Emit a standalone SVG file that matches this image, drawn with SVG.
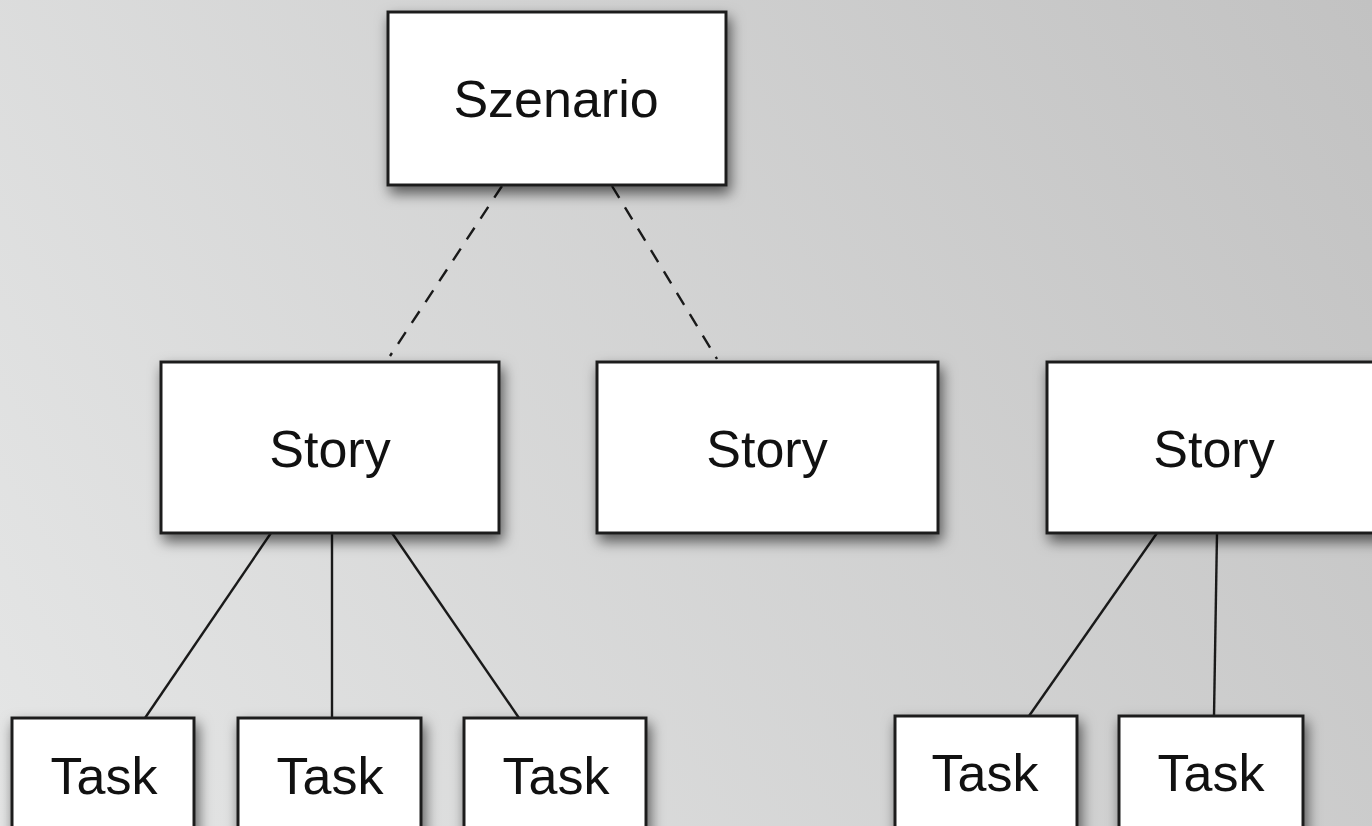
<svg xmlns="http://www.w3.org/2000/svg" width="1372" height="826" viewBox="0 0 1372 826">
  <defs>
    <linearGradient id="bg" gradientUnits="userSpaceOnUse" x1="0" y1="826" x2="1372" y2="0">
      <stop offset="0" stop-color="#e5e6e6"/>
      <stop offset="1" stop-color="#c2c2c2"/>
    </linearGradient>
    <filter id="shadow" x="-20%" y="-20%" width="140%" height="160%">
      <feDropShadow dx="3" dy="7" stdDeviation="7" flood-color="#000" flood-opacity="0.6"/>
    </filter>
    <style>
      .box { fill: #ffffff; stroke: #1e1e1e; stroke-width: 3; filter: url(#shadow); }
      .lbl { font-family: "Liberation Sans", Arial, sans-serif; font-size: 52px; fill: #111; text-anchor: middle; }
      .solid { stroke: #1a1a1a; stroke-width: 2.4; fill: none; }
      .dash { stroke: #1a1a1a; stroke-width: 2.4; fill: none; stroke-dasharray: 14 11; }
    </style>
  </defs>
  <rect x="0" y="0" width="1372" height="826" fill="url(#bg)"/>

  <g id="connectors">
    <line class="dash" x1="502" y1="186" x2="390" y2="356"/>
    <line class="dash" x1="612" y1="186" x2="717" y2="359"/>
    <line class="solid" x1="271" y1="533" x2="145" y2="718"/>
    <line class="solid" x1="332" y1="533" x2="332" y2="718"/>
    <line class="solid" x1="392" y1="533" x2="519" y2="718"/>
    <line class="solid" x1="1157" y1="533" x2="1029" y2="716"/>
    <line class="solid" x1="1217" y1="533" x2="1214" y2="716"/>
  </g>

  <g id="szenario">
    <rect class="box" x="388" y="12" width="338" height="173"/>
    <text class="lbl" x="556" y="117">Szenario</text>
  </g>
  <g id="story1">
    <rect class="box" x="161" y="362" width="338" height="171"/>
    <text class="lbl" x="330" y="467">Story</text>
  </g>
  <g id="story2">
    <rect class="box" x="597" y="362" width="341" height="171"/>
    <text class="lbl" x="767" y="467">Story</text>
  </g>
  <g id="story3">
    <rect class="box" x="1047" y="362" width="345" height="171"/>
    <text class="lbl" x="1214" y="467">Story</text>
  </g>
  <g id="task1">
    <rect class="box" x="12" y="718" width="182" height="130"/>
    <text class="lbl" x="104" y="794">Task</text>
  </g>
  <g id="task2">
    <rect class="box" x="238" y="718" width="183" height="130"/>
    <text class="lbl" x="330" y="794">Task</text>
  </g>
  <g id="task3">
    <rect class="box" x="464" y="718" width="182" height="130"/>
    <text class="lbl" x="556" y="794">Task</text>
  </g>
  <g id="task4">
    <rect class="box" x="895" y="716" width="182" height="130"/>
    <text class="lbl" x="985" y="791">Task</text>
  </g>
  <g id="task5">
    <rect class="box" x="1119" y="716" width="184" height="130"/>
    <text class="lbl" x="1211" y="791">Task</text>
  </g>
</svg>
